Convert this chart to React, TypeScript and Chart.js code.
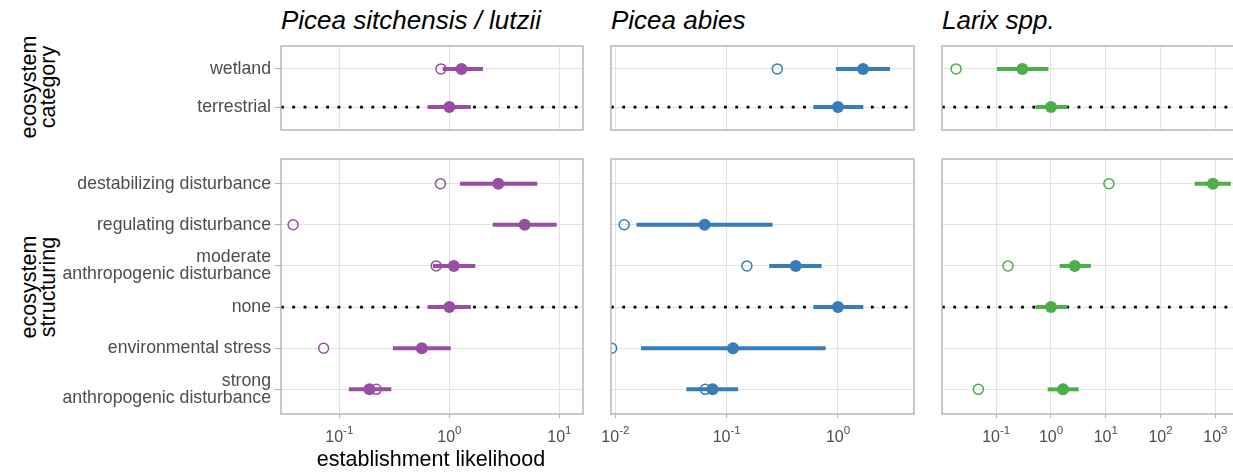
import React, { useEffect, useRef } from 'react';
import { Chart, registerables } from 'chart.js';
Chart.register(...registerables);

// ---------- data ----------
const speciesNames = ['Picea sitchensis / lutzii', 'Picea abies', 'Larix spp.'];
const speciesColors = ['#984ea3', '#377eb8', '#4daf4a'];

const categoryRows: (string | string[])[] = ['wetland', 'terrestrial'];
const structuringRows: (string | string[])[] = [
  'destabilizing disturbance',
  'regulating disturbance',
  ['moderate', 'anthropogenic disturbance'],
  'none',
  'environmental stress',
  ['strong', 'anthropogenic disturbance'],
];
const categoryReference = 'terrestrial';
const structuringReference = 'none';

// Picea sitchensis / lutzii
const sitchCatEst = [1.29, 1.0];
const sitchCatLo = [0.87, 0.635];
const sitchCatHi = [2.02, 1.57];
const sitchCatRaw = [0.84, null];
const sitchStrEst = [2.79, 4.84, 1.1, 1.0, 0.563, 0.188];
const sitchStrLo = [1.25, 2.48, 0.71, 0.635, 0.307, 0.122];
const sitchStrHi = [6.3, 9.45, 1.72, 1.57, 1.03, 0.297];
const sitchStrRaw = [0.83, 0.038, 0.76, null, 0.072, 0.217];

// Picea abies
const abiesCatEst = [1.68, 1.0];
const abiesCatLo = [0.96, 0.6];
const abiesCatHi = [2.93, 1.69];
const abiesCatRaw = [0.285, null];
const abiesStrEst = [null, 0.0634, 0.417, 1.0, 0.114, 0.0748];
const abiesStrLo = [null, 0.0155, 0.241, 0.6, 0.017, 0.0434];
const abiesStrHi = [null, 0.259, 0.713, 1.69, 0.775, 0.127];
const abiesStrRaw = [null, 0.012, 0.152, null, 0.00927, 0.0643];

// Larix spp.
const larixCatEst = [0.3, 1.0];
const larixCatLo = [0.103, 0.526];
const larixCatHi = [0.896, 1.99];
const larixCatRaw = [0.0185, null];
const larixStrEst = [904, null, 2.71, 1.0, null, 1.66];
const larixStrLo = [419, null, 1.44, 0.526, null, 0.87];
const larixStrHi = [1930, null, 5.37, 1.99, null, 3.2];
const larixStrRaw = [11.4, null, 0.164, null, null, 0.0473];

// x axis (log10 limits and decade tick exponents) per species column
const xLogMin = [-1.53, -2.039, -1.99];
const xLogMax = [1.215, 0.683, 3.414];
const xTickExps = [[-1, 0, 1], [-2, -1, 0], [-1, 0, 1, 2, 3]];

const xTitle = 'establishment likelihood';
const rowTitles = [['ecosystem', 'category'], ['ecosystem', 'structuring']];

type Num = number | null;
interface Series { est: Num[]; lo: Num[]; hi: Num[]; raw: Num[]; }
const panelData: Series[][] = [
  [
    { est: sitchCatEst, lo: sitchCatLo, hi: sitchCatHi, raw: sitchCatRaw },
    { est: abiesCatEst, lo: abiesCatLo, hi: abiesCatHi, raw: abiesCatRaw },
    { est: larixCatEst, lo: larixCatLo, hi: larixCatHi, raw: larixCatRaw },
  ],
  [
    { est: sitchStrEst, lo: sitchStrLo, hi: sitchStrHi, raw: sitchStrRaw },
    { est: abiesStrEst, lo: abiesStrLo, hi: abiesStrHi, raw: abiesStrRaw },
    { est: larixStrEst, lo: larixStrLo, hi: larixStrHi, raw: larixStrRaw },
  ],
];
const rowLabels = [categoryRows, structuringRows];
const rowRefs = [categoryReference, structuringReference];

// ---------- layout ----------
const FONT = '"Liberation Sans", Arial, Helvetica, sans-serif';
const colGeom = [
  { canvasLeft: 60, panelLeft: 281, panelRight: 583, canvasRight: 596 },
  { canvasLeft: 598, panelLeft: 611, panelRight: 914, canvasRight: 926 },
  { canvasLeft: 930, panelLeft: 942, panelRight: 1238, canvasRight: 1245 },
];
const rowGeom = [
  { canvasTop: 38, panelTop: 46, panelBottom: 130, canvasBottom: 140 },
  { canvasTop: 150, panelTop: 159, panelBottom: 414, canvasBottom: 452 },
];

const borderPlugin = {
  id: 'panelBorder',
  afterDraw(chart: any) {
    const { ctx, chartArea: a } = chart;
    ctx.save();
    ctx.strokeStyle = '#b3b3b3';
    ctx.lineWidth = 1.4;
    ctx.strokeRect(a.left, a.top, a.right - a.left, a.bottom - a.top);
    ctx.restore();
  },
};

const supLabelPlugin = {
  id: 'supLabels',
  afterDraw(chart: any, _args: any, opts: any) {
    if (!opts || !opts.show) return;
    const s = chart.scales.x;
    const { ctx, chartArea: a } = chart;
    ctx.save();
    ctx.fillStyle = '#4d4d4d';
    ctx.textBaseline = 'alphabetic';
    ctx.textAlign = 'left';
    for (const t of s.ticks) {
      const x = s.getPixelForValue(t.value);
      const e = Math.round(Math.log10(t.value));
      const base = '10';
      const sup = e < 0 ? '-' + Math.abs(e) : String(e);
      ctx.font = `16px ${FONT}`;
      const wb = ctx.measureText(base).width;
      ctx.font = `11.5px ${FONT}`;
      const ws = ctx.measureText(sup).width;
      const x0 = x - (wb + ws) / 2;
      ctx.font = `16px ${FONT}`;
      ctx.fillText(base, x0, a.bottom + 28);
      ctx.font = `11.5px ${FONT}`;
      ctx.fillText(sup, x0 + wb, a.bottom + 20);
    }
    ctx.restore();
  },
};

function Panel({ row, col }: { row: number; col: number }) {
  const ref = useRef<HTMLCanvasElement | null>(null);
  const cg = colGeom[col];
  const rg = rowGeom[row];
  const w = cg.canvasRight - cg.canvasLeft;
  const h = rg.canvasBottom - rg.canvasTop;

  useEffect(() => {
    if (!ref.current) return;
    const d = panelData[row][col];
    const labels = rowLabels[row];
    const color = speciesColors[col];
    const n = labels.length;
    const refIdx = labels.indexOf(rowRefs[row]);
    const xmin = Math.pow(10, xLogMin[col]);
    const xmax = Math.pow(10, xLogMax[col]);
    const datasets: any[] = [];
    if (refIdx >= 0) {
      datasets.push({
        data: [{ x: xmin, y: refIdx + 1 }, { x: xmax, y: refIdx + 1 }],
        showLine: true, borderColor: '#000', borderWidth: 2.8,
        borderDash: [2.8, 8.5], borderCapStyle: 'butt',
        pointRadius: 0, order: 10, clip: 0,
      });
    }
    const rawPts: any[] = [];
    d.raw.forEach((v, i) => { if (v != null) rawPts.push({ x: v, y: i + 1 }); });
    datasets.push({
      data: rawPts, pointRadius: 5, pointBorderWidth: 1.5,
      borderColor: color, backgroundColor: 'rgba(0,0,0,0)',
      pointBorderColor: color, pointBackgroundColor: 'rgba(0,0,0,0)',
      order: 3, clip: 0,
    });
    d.est.forEach((v, i) => {
      const lo = d.lo[i]; const hi = d.hi[i];
      if (lo == null || hi == null) return;
      datasets.push({
        data: [{ x: lo, y: i + 1 }, { x: hi, y: i + 1 }],
        showLine: true, borderColor: color, borderWidth: 4,
        borderCapStyle: 'butt', pointRadius: 0, order: 2, clip: 0,
      });
    });
    const estPts: any[] = [];
    d.est.forEach((v, i) => { if (v != null) estPts.push({ x: v, y: i + 1 }); });
    datasets.push({
      data: estPts, pointRadius: 6, pointBorderWidth: 0,
      backgroundColor: color, borderColor: color,
      pointBackgroundColor: color, order: 1, clip: 0,
    });

    const showY = col === 0;
    const showX = row === 1;
    const chart = new Chart(ref.current, {
      type: 'scatter',
      data: { datasets },
      plugins: [borderPlugin, supLabelPlugin],
      options: {
        animation: false,
        responsive: false,
        events: [],
        layout: { padding: { left: 0, top: rg.panelTop - rg.canvasTop, right: cg.canvasRight - cg.panelRight, bottom: 0 } },
        plugins: {
          legend: { display: false },
          tooltip: { enabled: false },
          supLabels: { show: showX },
        } as any,
        scales: {
          x: {
            type: 'logarithmic',
            min: xmin,
            max: xmax,
            afterBuildTicks: (s: any) => { s.ticks = xTickExps[col].map((e) => ({ value: Math.pow(10, e) })); },
            afterFit: (s: any) => { s.height = rg.canvasBottom - rg.panelBottom; s.paddingLeft = 0; s.paddingRight = 0; },
            ticks: { display: false },
            grid: { color: '#e3e3e3', lineWidth: 1.1, drawTicks: showX, tickLength: 4, tickColor: '#b3b3b3', tickWidth: 1.1 },
            border: { display: false },
          },
          y: {
            type: 'linear',
            reverse: true,
            min: 0.4,
            max: n + 0.6,
            afterBuildTicks: (s: any) => { s.ticks = labels.map((_, i) => ({ value: i + 1 })); },
            afterFit: (s: any) => { s.width = cg.panelLeft - cg.canvasLeft; s.paddingTop = 0; s.paddingBottom = 0; },
            ticks: {
              display: showY,
              callback: (v: any) => labels[Math.round(Number(v)) - 1] as any,
              color: '#4d4d4d',
              padding: 4,
              font: { family: FONT, size: 17.7, lineHeight: 0.95 },
              autoSkip: false,
            },
            grid: { color: '#e3e3e3', lineWidth: 1.1, drawTicks: showY, tickLength: 6, tickColor: '#b3b3b3', tickWidth: 1.1 },
            border: { display: false },
          },
        },
      } as any,
    });
    return () => chart.destroy();
  }, [row, col]);

  return (
    <canvas
      ref={ref}
      width={w}
      height={h}
      style={{ position: 'absolute', left: cg.canvasLeft, top: rg.canvasTop, width: w, height: h }}
    />
  );
}

export default function App() {
  const rowCenters = [87, 286.5];
  return (
    <div style={{ position: 'absolute', left: 0, top: 0, width: 1233, height: 473, overflow: 'hidden', background: '#fff', fontFamily: FONT }}>
      {[0, 1].map((r) => [0, 1, 2].map((c) => <Panel key={`${r}-${c}`} row={r} col={c} />))}
      {speciesNames.map((s, i) => (
        <div key={s} style={{ position: 'absolute', left: colGeom[i].panelLeft, top: 7, fontSize: 26, lineHeight: '26px', fontStyle: 'italic', color: '#000', whiteSpace: 'nowrap' }}>{s}</div>
      ))}
      {rowTitles.map((t, i) => (
        <div key={i} style={{ position: 'absolute', left: 39, top: rowCenters[i], transform: 'translate(-50%, -50%) rotate(-90deg)', fontSize: 21.5, lineHeight: '19px', textAlign: 'center', color: '#000', whiteSpace: 'nowrap' }}>
          {t.map((l, j) => <div key={j}>{l}</div>)}
        </div>
      ))}
      <div style={{ position: 'absolute', left: 431, top: 449, transform: 'translateX(-50%)', fontSize: 21.5, lineHeight: '21.5px', color: '#000', whiteSpace: 'nowrap' }}>{xTitle}</div>
    </div>
  );
}
